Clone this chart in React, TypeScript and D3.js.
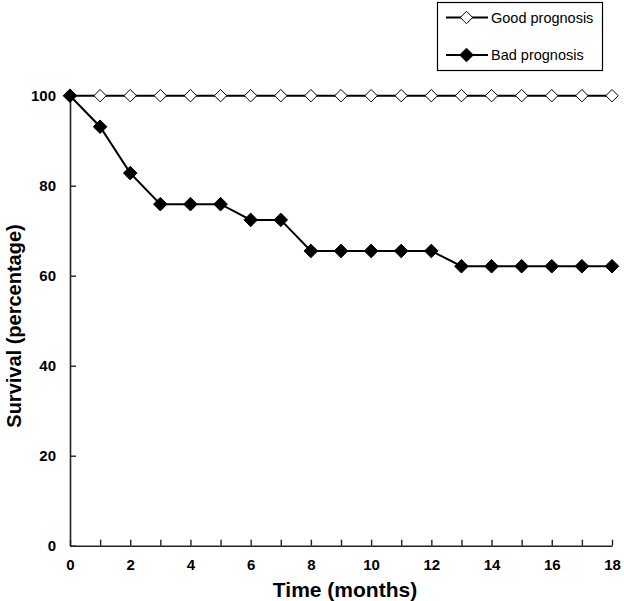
import React from 'react';
import { scaleLinear, select, axisLeft, axisBottom, line } from 'd3';

interface Point {
  month: number;
  value: number;
}

const months = [0, 1, 2, 3, 4, 5, 6, 7, 8, 9, 10, 11, 12, 13, 14, 15, 16, 17, 18];
const goodPrognosis = [100, 100, 100, 100, 100, 100, 100, 100, 100, 100, 100, 100, 100, 100, 100, 100, 100, 100, 100];
const badPrognosis = [100, 93.1, 82.8, 75.9, 75.9, 75.9, 72.4, 72.4, 65.5, 65.5, 65.5, 65.5, 65.5, 62.1, 62.1, 62.1, 62.1, 62.1, 62.1];
const xTicks = [0, 2, 4, 6, 8, 10, 12, 14, 16, 18];
const yTicks = [0, 20, 40, 60, 80, 100];
const seriesNames = ['Good prognosis', 'Bad prognosis'];

const dims = {
  width: 624,
  height: 601,
  left: 70,
  right: 612,
  top: 95.7,
  bottom: 545.7,
};

const font = 'Liberation Sans, Arial, sans-serif';
const diamond = (r: number) => `M0,${-r}L${r},0L0,${r}L${-r},0Z`;

const App: React.FC = () => {
  const svgRef = React.useRef<SVGSVGElement>(null);

  React.useEffect(() => {
    const svg = select(svgRef.current);
    svg.selectAll('*').remove();

    const x = scaleLinear().domain([0, 18]).range([dims.left, dims.right]);
    const y = scaleLinear().domain([0, 100]).range([dims.bottom, dims.top]);

    // x axis: ticks every month, labels every 2 months, ticks pointing up
    const xAxis = axisBottom(x)
      .tickValues(months)
      .tickSizeInner(-6)
      .tickSizeOuter(0)
      .tickPadding(12)
      .tickFormat((d) => (xTicks.includes(+d) ? String(d) : ''));
    const gx = svg.append('g').attr('transform', `translate(0, ${dims.bottom})`).call(xAxis);

    const yAxis = axisLeft(y)
      .tickValues(yTicks)
      .tickSizeInner(-6)
      .tickSizeOuter(0)
      .tickPadding(14);
    const gy = svg.append('g').attr('transform', `translate(${dims.left}, 0)`).call(yAxis);

    [gx, gy].forEach((g) => {
      g.select('.domain').attr('stroke', '#222').attr('stroke-width', 1.6);
      g.selectAll('.tick line').attr('stroke', '#222').attr('stroke-width', 1.4);
      g.selectAll('.tick text')
        .attr('font-family', font)
        .attr('font-weight', 'bold')
        .attr('font-size', 15)
        .attr('fill', '#000');
    });
    gx.selectAll('.tick text').attr('dy', '0.85em');

    svg
      .append('text')
      .attr('x', 345)
      .attr('y', 597)
      .attr('text-anchor', 'middle')
      .attr('font-family', font)
      .attr('font-weight', 'bold')
      .attr('font-size', 21)
      .text('Time (months)');

    svg
      .append('text')
      .attr('transform', `translate(21, 326) rotate(-90)`)
      .attr('text-anchor', 'middle')
      .attr('font-family', font)
      .attr('font-weight', 'bold')
      .attr('font-size', 20)
      .text('Survival (percentage)');

    const toPoints = (vals: number[]): Point[] => months.map((m, i) => ({ month: m, value: vals[i] }));
    const series = [
      { name: seriesNames[0], points: toPoints(goodPrognosis), fill: '#fff' },
      { name: seriesNames[1], points: toPoints(badPrognosis), fill: '#000' },
    ];

    const path = line<Point>()
      .x((d) => x(d.month))
      .y((d) => y(d.value));

    series.forEach((s) => {
      svg
        .append('path')
        .attr('d', path(s.points))
        .attr('fill', 'none')
        .attr('stroke', '#000')
        .attr('stroke-width', 2);
    });
    // open markers first, filled markers on top (filled one wins at month 0)
    series.forEach((s) => {
      svg
        .append('g')
        .selectAll('path')
        .data(s.points)
        .join('path')
        .attr('transform', (d) => `translate(${x(d.month)}, ${y(d.value)})`)
        .attr('d', diamond(s.fill === '#000' ? 6.8 : 6.2))
        .attr('fill', s.fill)
        .attr('stroke', '#000')
        .attr('stroke-width', 1);
    });

    // legend
    const legend = svg.append('g');
    legend
      .append('rect')
      .attr('x', 437.5)
      .attr('y', 2.5)
      .attr('width', 165)
      .attr('height', 68)
      .attr('fill', '#fff')
      .attr('stroke', '#000')
      .attr('stroke-width', 1.2);
    series.forEach((s, i) => {
      const ly = 17.5 + i * 37.5;
      legend
        .append('line')
        .attr('x1', 446)
        .attr('x2', 488)
        .attr('y1', ly)
        .attr('y2', ly)
        .attr('stroke', '#000')
        .attr('stroke-width', 2);
      legend
        .append('path')
        .attr('transform', `translate(466.5, ${ly})`)
        .attr('d', diamond(s.fill === '#000' ? 6.8 : 6.2))
        .attr('fill', s.fill)
        .attr('stroke', '#000')
        .attr('stroke-width', 1);
      legend
        .append('text')
        .attr('x', 491)
        .attr('y', ly)
        .attr('dy', '0.35em')
        .attr('font-family', font)
        .attr('font-size', 14.5)
        .text(s.name);
    });
  }, []);

  return (
    <svg
      ref={svgRef}
      width={dims.width}
      height={dims.height}
      style={{ position: 'absolute', left: 0, top: 0, background: '#fff' }}
    />
  );
};

export default App;
